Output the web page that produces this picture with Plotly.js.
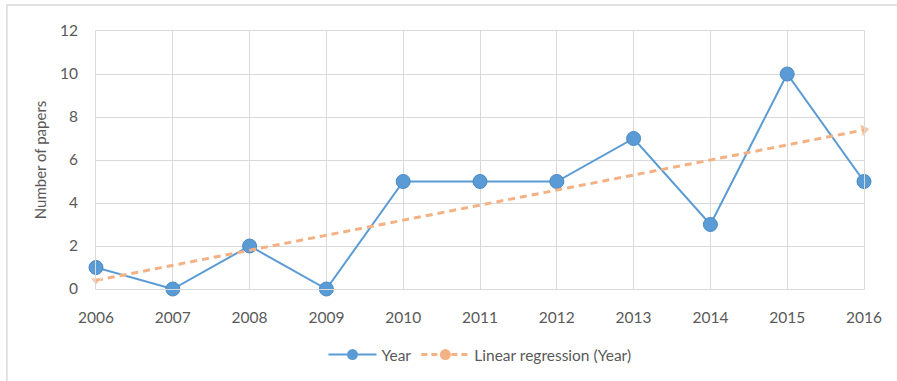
<!DOCTYPE html>
<html><head><meta charset="utf-8">
<script src="https://cdn.plot.ly/plotly-3.0.1.min.js"></script>
<style>html,body{margin:0;padding:0;background:#fff}</style>
</head><body>
<div id="chart" style="width:897px;height:381px"></div>
<script>
const years = [2006, 2007, 2008, 2009, 2010, 2011, 2012, 2013, 2014, 2015, 2016];
const papers = [1, 0, 2, 0, 5, 5, 5, 7, 3, 10, 5];
const trendYears = [2006, 2016];
const trendValues = [0.4, 7.4];
const yTicks = [0, 2, 4, 6, 8, 10, 12];

const font = {family: 'Lato, "Open Sans", sans-serif', size: 15.5, color: '#595959'};
const blue = '#5b9bd5';
const orange = '#f4b183';

const traces = [
  {
    x: years, y: papers, name: 'Year', type: 'scatter', mode: 'lines+markers',
    line: {color: blue, width: 2},
    marker: {color: blue, size: 14, line: {color: '#4a8ac4', width: 1}},
    cliponaxis: false, showlegend: false
  },
  {
    x: trendYears, y: trendValues, name: 'Linear regression (Year)', type: 'scatter', mode: 'lines+markers',
    line: {color: orange, width: 3, dash: '7px,5px'},
    marker: {color: orange, size: [10, 12], symbol: ['triangle-down', 'triangle-right'], angle: [0, -11]},
    cliponaxis: false, showlegend: false
  },
  // legend-only entries (no data points)
  {
    x: [null], y: [null], name: 'Year', type: 'scatter', mode: 'lines+markers',
    line: {color: blue, width: 2}, marker: {color: blue, size: 11}
  },
  {
    x: [null], y: [null], name: 'Linear regression (Year)', type: 'scatter', mode: 'lines+markers',
    line: {color: orange, width: 3, dash: '6px,4px'}, marker: {color: orange, size: 11, symbol: 'circle'}
  }
];

const layout = {
  width: 897, height: 381,
  margin: {l: 96, r: 33, t: 31, b: 92, autoexpand: false},
  paper_bgcolor: '#fff', plot_bgcolor: '#fff',
  font: font,
  showlegend: true,
  legend: {orientation: 'h', x: 0.5, xanchor: 'center', y: -0.19, yanchor: 'top', itemwidth: 48,
           font: {family: font.family, size: 15.5, color: '#595959'}},
  xaxis: {
    range: [2006, 2016], tickvals: years, ticktext: years.map(String),
    showgrid: true, gridcolor: '#d9d9d9', gridwidth: 1,
    zeroline: false, showline: true, linecolor: '#d9d9d9', mirror: true,
    ticks: 'outside', ticklen: 14, tickcolor: 'rgba(0,0,0,0)', tickfont: font
  },
  yaxis: {
    range: [0, 12], tickvals: yTicks, ticktext: yTicks.map(String),
    showgrid: true, gridcolor: '#d9d9d9', gridwidth: 1,
    zeroline: false, showline: true, linecolor: '#d9d9d9', mirror: true,
    ticks: 'outside', ticklen: 14, tickcolor: 'rgba(0,0,0,0)', tickfont: font,
    title: {text: 'Number of papers', font: {family: font.family, size: 15, color: '#595959'}, standoff: 9}
  },
  shapes: [{
    type: 'rect', xref: 'paper', yref: 'paper',
    x0: -0.116, x1: 1.2, y0: -0.5, y1: 1.101,
    line: {color: '#d9d9d9', width: 1.5}, fillcolor: 'rgba(0,0,0,0)', layer: 'below'
  }]
};

Plotly.newPlot('chart', traces, layout, {displayModeBar: false, staticPlot: true});
</script>
</body></html>
